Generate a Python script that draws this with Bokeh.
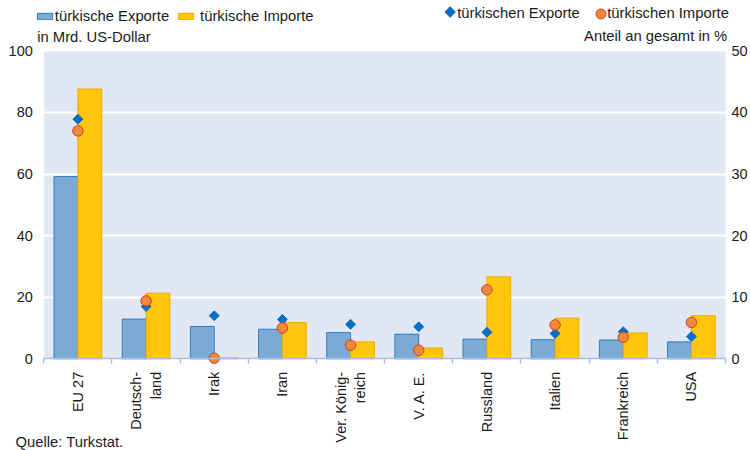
import numpy as np
from bokeh.plotting import figure
from bokeh.models import (Range1d, LinearAxis, FixedTicker, Legend, LegendItem,
                          Label, BoxAnnotation, ColumnDataSource, Grid)
from bokeh.embed import file_html
from bokeh.resources import INLINE

# ---- data ----
countries = ["EU 27", "Deutsch-\nland", "Irak", "Iran", "Ver. König-\nreich",
             "V. A. E.", "Russland", "Italien", "Frankreich", "USA"]
exports_bn = [59.2, 12.9, 10.5, 9.6, 8.5, 8.0, 6.4, 6.2, 6.1, 5.5]
imports_bn = [87.6, 21.3, 0.3, 11.8, 5.5, 3.5, 26.6, 13.2, 8.4, 14.0]
export_share = [38.9, 8.5, 7.0, 6.4, 5.6, 5.2, 4.3, 4.1, 4.4, 3.6]
import_share = [37.0, 9.4, 0.1, 5.0, 2.2, 1.4, 11.2, 5.5, 3.5, 5.9]
left_ticks = [0, 20, 40, 60, 80, 100]
right_ticks = [0, 10, 20, 30, 40, 50]

FONT = "Liberation Sans"
TXT = "#1a1a1a"
HFS = "14.8px"   # header text size
W, H = 750, 450
DY = 5.5         # baseline correction for screen-unit labels

n = len(countries)
centers = np.arange(n) + 0.5
bw = 0.35
src = ColumnDataSource(dict(
    x=centers, x_exp=centers - bw / 2, x_imp=centers + bw / 2,
    exp=exports_bn, imp=imports_bn, exp_s=export_share, imp_s=import_share))

# frame covers the whole canvas; axes are pinned with fixed_location
px_x = 68.17          # px per category
px_y = 3.08           # px per Mrd. USD
x0_px, y0_px = 43.3, 358.3
x_rng = Range1d(-x0_px / px_x, (W - x0_px) / px_x)
y_rng = Range1d(-(H - y0_px) / px_y, y0_px / px_y)

p = figure(width=W, height=H, x_range=x_rng, y_range=y_rng,
           output_backend="svg", toolbar_location=None,
           min_border=0, min_border_left=0, min_border_right=0,
           min_border_top=0, min_border_bottom=0,
           background_fill_color="white", border_fill_color="white",
           outline_line_color=None)
p.extra_y_ranges = {"right": Range1d(y_rng.start / 2, y_rng.end / 2)}

# plot band
p.add_layout(BoxAnnotation(left=0, right=n, bottom=0, top=left_ticks[-1],
                           fill_color="#E1E8F4", fill_alpha=1.0, line_alpha=0, level="image"))

# grid
p.xgrid.visible = False
yg = p.ygrid[0]
yg.ticker = FixedTicker(ticks=left_ticks[1:])
yg.grid_line_color = "white"
yg.grid_line_width = 2
yg.bounds = (0, left_ticks[-1])
if "cross_bounds" in Grid.properties():
    yg.cross_bounds = (0, n)
else:
    yg.visible = False
    p.segment(x0=0, x1=n, y0=left_ticks[1:], y1=left_ticks[1:], line_color="white",
              line_width=2, level="underlay")

# left axis
ya = p.yaxis[0]
ya.fixed_location = 0
ya.ticker = FixedTicker(ticks=left_ticks)
ya.bounds = (0, left_ticks[-1])
ya.axis_line_color = None
ya.major_tick_line_color = None
ya.minor_tick_line_color = None
ya.major_tick_out = 0
ya.major_tick_in = 0
ya.major_label_standoff = 11
ya.major_label_text_font = FONT
ya.major_label_text_font_size = "14.5px"
ya.major_label_text_color = TXT

# right axis
ra = LinearAxis(y_range_name="right", ticker=FixedTicker(ticks=right_ticks),
                fixed_location=n, bounds=(0, right_ticks[-1]))
ra.axis_line_color = None
ra.major_tick_line_color = None
ra.minor_tick_line_color = None
ra.major_tick_out = 0
ra.major_tick_in = 0
ra.major_label_standoff = 6
ra.major_label_text_font = FONT
ra.major_label_text_font_size = "14.5px"
ra.major_label_text_color = TXT
p.add_layout(ra, "right")

# x axis
xa = p.xaxis[0]
xa.fixed_location = 0
xa.bounds = (0, n)
xa.ticker = FixedTicker(ticks=list(centers), minor_ticks=list(range(n + 1)))
xa.major_label_overrides = {float(c): lab for c, lab in zip(centers, countries)}
xa.major_label_orientation = np.pi / 2
xa.axis_line_color = "#A9BFE0"
xa.axis_line_width = 1.5
xa.major_tick_line_color = None
xa.major_tick_out = 0
xa.major_tick_in = 0
xa.minor_tick_line_color = "#A9BFE0"
xa.minor_tick_line_width = 1.5
xa.minor_tick_out = 5
xa.minor_tick_in = 0
xa.major_label_standoff = 8
xa.major_label_text_font = FONT
xa.major_label_text_font_size = "14.5px"
xa.major_label_text_color = TXT

# bars
r_exp = p.vbar(x="x_exp", top="exp", width=bw, source=src,
               fill_color="#7BAAD5", line_color="#2E7EC8", line_width=1)
r_imp = p.vbar(x="x_imp", top="imp", width=bw, source=src,
               fill_color="#FFC60B", line_color="#F5A800", line_width=1)

# markers (share, right axis)
r_dia = p.scatter(x="x", y="exp_s", y_range_name="right", source=src, marker="square",
                  angle=np.pi / 4, size=7, fill_color="#0A6FC2", line_color="#0A6FC2")
r_cir = p.scatter(x="x", y="imp_s", y_range_name="right", source=src, marker="circle",
                  size=10.5, fill_color="#F08838", line_color="#D0402E", line_width=1)

common = dict(orientation="horizontal", padding=0, margin=0, border_line_alpha=0,
              background_fill_alpha=0, label_text_font=FONT, label_text_font_size=HFS,
              label_text_color=TXT)

leg1 = Legend(items=[LegendItem(label="türkische Exporte", renderers=[r_exp])],
              location=(34.8, H - 24.2), glyph_width=19, glyph_height=8, label_height=16,
              label_standoff=1, **common)
leg2 = Legend(items=[LegendItem(label="türkische Importe", renderers=[r_imp])],
              location=(176.1, H - 24.2), glyph_width=19, glyph_height=8, label_height=16,
              label_standoff=5, **common)
leg3 = Legend(items=[LegendItem(label=" ", renderers=[r_cir])],
              location=(587.5, H - 26.3), glyph_width=25, glyph_height=25, label_height=25,
              label_standoff=0, **common)
for lg in (leg1, leg2, leg3):
    p.add_layout(lg)

lab_kw = dict(x_units="screen", y_units="screen", text_font=FONT, text_font_size=HFS,
              text_color=TXT, text_baseline="alphabetic")
# diamond legend key (text symbol) and legend labels
p.add_layout(Label(x=449.5, y=H - 13.8 + 3.5, text="◆", x_units="screen", y_units="screen",
                   text_font="DejaVu Sans", text_font_size="15px", text_color="#0A6FC2",
                   text_align="center", text_baseline="middle"))
p.add_layout(Label(x=456.7, y=H - 18.3 + DY, text="türkischen Exporte", **lab_kw))
p.add_layout(Label(x=606.7, y=H - 18.3 + DY, text="türkischen Importe", **lab_kw))
p.add_layout(Label(x=36.7, y=H - 41.7 + DY, text="in Mrd. US-Dollar", **lab_kw))
p.add_layout(Label(x=726.7, y=H - 41.0 + DY, text="Anteil an gesamt in %",
                   text_align="right", **lab_kw))
p.add_layout(Label(x=15, y=H - 447 + DY, text="Quelle: Turkstat.", **lab_kw))

open("out.html", "w").write(file_html(p, INLINE))
